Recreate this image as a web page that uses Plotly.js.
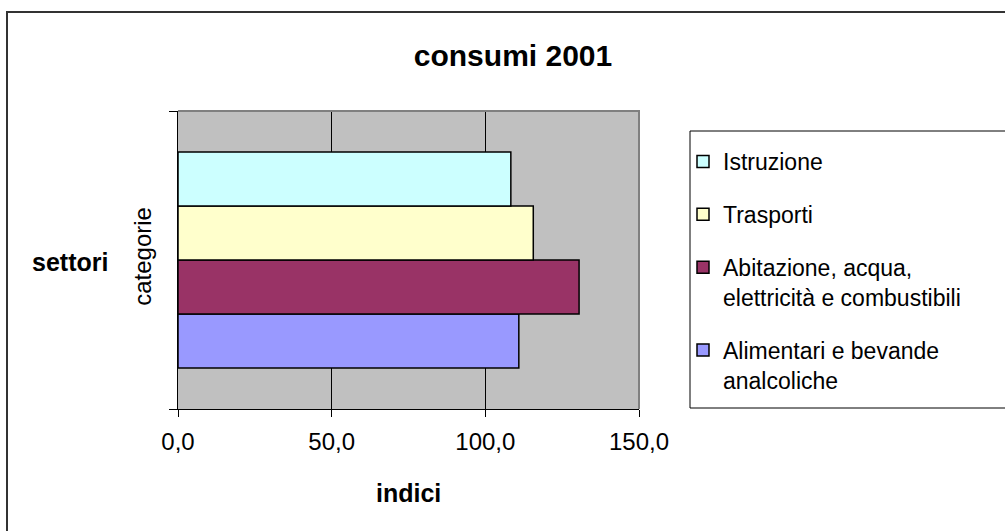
<!DOCTYPE html>
<html>
<head>
<meta charset="utf-8">
<script src="https://cdn.plot.ly/plotly-3.0.1.min.js"></script>
<style>
  html, body { margin: 0; padding: 0; background: #ffffff; }
  #chart { width: 1005px; height: 531px; }
</style>
</head>
<body>
<div id="chart"></div>
<script>
// ---- data ----
const chartTitle = "consumi 2001";
const categoryLabels = ["categorie"];
const seriesNames = [
  "Alimentari e bevande<br>analcoliche",
  "Abitazione, acqua,<br>elettricità e combustibili",
  "Trasporti",
  "Istruzione"
];
const seriesValues = [
  [110.9],
  [130.5],
  [115.6],
  [108.3]
];
const seriesColors = ["#9999FF", "#993366", "#FFFFCC", "#CCFFFF"];
const xTickValues = [0, 50, 100, 150];
const xAxisTitle = "indici";
const yAxisTitle = "settori";

const FONT = "Liberation Sans, Arial, sans-serif";

const traces = seriesNames.map((name, i) => ({
  type: "bar",
  orientation: "h",
  name: name,
  legendgroup: "g" + i,
  legendrank: seriesNames.length - i,
  y: categoryLabels,
  x: seriesValues[i],
  marker: { color: seriesColors[i], line: { color: "#000000", width: 1.5 } },
  hoverinfo: "x+name"
}));

const layout = {
  width: 1005,
  height: 531,
  margin: { l: 178, r: 366, t: 111, b: 122, pad: 0 },
  paper_bgcolor: "#ffffff",
  plot_bgcolor: "#C0C0C0",
  separators: ",.",
  font: { family: FONT, color: "#000000", size: 21 },
  barmode: "group",
  bargap: 0.275,
  bargroupgap: 0,
  title: {
    text: "<b>" + chartTitle + "</b>",
    font: { family: FONT, size: 30, color: "#000000" },
    x: 513 / 1005, xref: "container", xanchor: "center",
    y: 1 - 55 / 531, yref: "container", yanchor: "middle"
  },
  xaxis: {
    range: [0, 150],
    tickvals: xTickValues,
    tickformat: ".1f",
    showgrid: true,
    gridcolor: "#000000",
    gridwidth: 1,
    zeroline: false,
    showline: true,
    linecolor: "#000000",
    linewidth: 1,
    ticks: "outside",
    ticklen: 7,
    tickcolor: "#000000",
    ticklabelstandoff: 4,
    tickfont: { family: FONT, size: 24, color: "#000000" },
    fixedrange: true
  },
  yaxis: {
    type: "category",
    tickson: "boundaries",
    ticks: "outside",
    ticklen: 8,
    tickcolor: "#000000",
    tickangle: -90,
    ticklabelstandoff: 16,
    showline: true,
    linecolor: "#000000",
    linewidth: 1,
    showgrid: false,
    tickfont: { family: FONT, size: 24, color: "#000000" },
    fixedrange: true
  },
  showlegend: true,
  legend: {
    x: (683 - 178) / 461,
    xanchor: "left",
    y: (409 - 140) / 298,
    yanchor: "top",
    bgcolor: "rgba(0,0,0,0)",
    borderwidth: 0,
    traceorder: "grouped",
    tracegroupgap: 20,
    valign: "top",
    font: { family: FONT, size: 23, color: "#000000" }
  },
  annotations: [
    {
      text: "<b>" + xAxisTitle + "</b>",
      xref: "paper", yref: "paper",
      x: 0.5, y: (409 - 493) / 298,
      xanchor: "center", yanchor: "middle",
      showarrow: false,
      font: { family: FONT, size: 25, color: "#000000" }
    },
    {
      text: "<b>" + yAxisTitle + "</b>",
      xref: "paper", yref: "paper",
      x: (70 - 178) / 461, y: (409 - 262) / 298,
      xanchor: "center", yanchor: "middle",
      showarrow: false,
      font: { family: FONT, size: 25, color: "#000000" }
    }
  ],
  shapes: [
    // gray top/right frame of plot area
    {
      type: "path", xref: "paper", yref: "paper",
      path: "M0,1 L1,1 L1,0",
      line: { color: "#808080", width: 2 },
      layer: "above"
    },
    // legend box
    {
      type: "rect", xref: "paper", yref: "paper",
      x0: (690 - 178) / 461, x1: (1015 - 178) / 461,
      y0: (409 - 408) / 298, y1: (409 - 131) / 298,
      line: { color: "#000000", width: 1 },
      fillcolor: "rgba(0,0,0,0)",
      layer: "above"
    },
    // outer chart frame
    {
      type: "rect", xref: "paper", yref: "paper",
      x0: (7 - 178) / 461, x1: (1020 - 178) / 461,
      y0: (409 - 545) / 298, y1: (409 - 12) / 298,
      line: { color: "#333333", width: 2 },
      fillcolor: "rgba(0,0,0,0)",
      layer: "above"
    }
  ]
};

Plotly.newPlot("chart", traces, layout, { displayModeBar: false, staticPlot: true });
</script>
</body>
</html>
